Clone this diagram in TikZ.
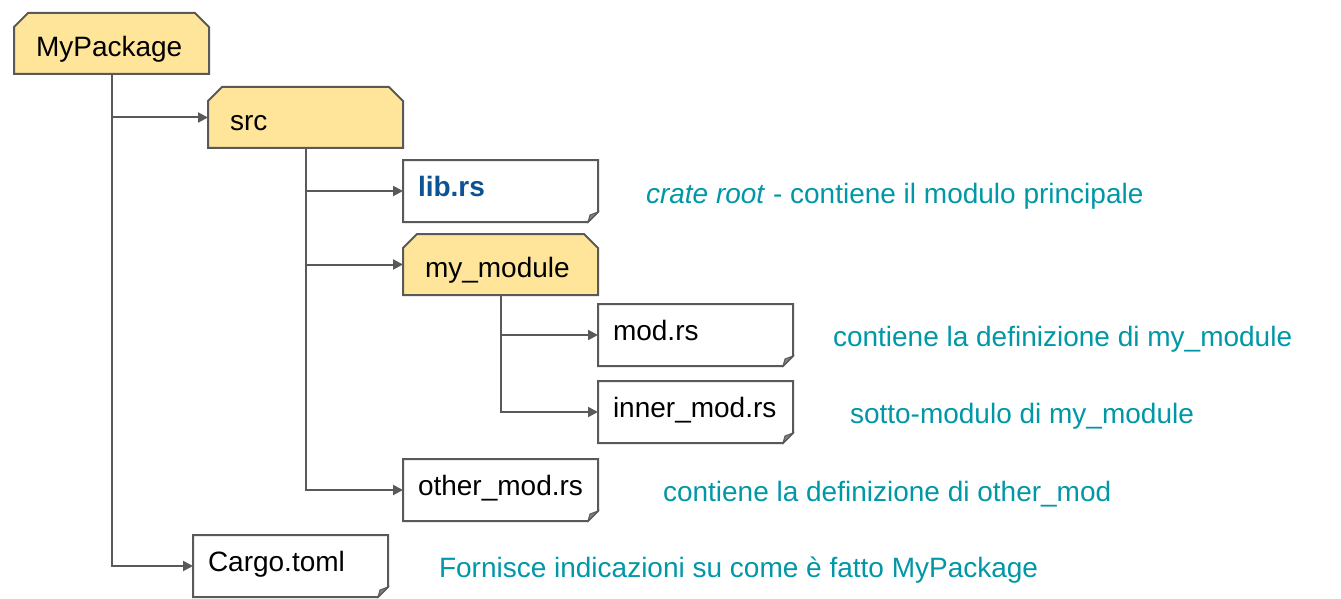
\documentclass[tikz,border=0pt]{standalone}
\usepackage{fontspec}
\setmainfont{Liberation Sans}
\usetikzlibrary{arrows.meta,backgrounds,calc}
\definecolor{linegray}{HTML}{595959}
\definecolor{folderfill}{HTML}{FFE599}
\definecolor{libblue}{HTML}{0B5394}
\definecolor{noteteal}{HTML}{0097A7}
\begin{document}
\begin{tikzpicture}[x=1pt,y=-1pt,
  every node/.style={font=\fontsize{28}{32}\selectfont, outer sep=0pt},
  folder/.style={anchor=north west, minimum width=195pt, minimum height=61pt,
    inner xsep=22pt, text width=151pt, align=left, text height=32pt, text depth=6pt, inner ysep=0pt},
  filebox/.style={anchor=north west, minimum width=195pt, minimum height=62pt,
    inner xsep=15pt, text width=165pt, align=left, text height=20pt, text depth=10pt, inner ysep=0pt},
  note/.style={anchor=base west, text=noteteal, inner sep=0pt},
  shapeline/.style={draw=linegray, line width=2pt, line join=miter},
  conn/.style={draw=linegray, line width=2pt, -{Triangle[length=10pt,width=10pt]}}
]
\useasboundingbox (0,0) rectangle (1341,599);

% nodes
\node[folder] (mp) at (14,13) {MyPackage};
\node[folder] (src) at (208,87) {src};
\node[filebox] (lib) at (403,160) {\textcolor{libblue}{\bfseries lib.rs}};
\node[folder] (mym) at (403,234) {my\_module};
\node[filebox] (mod) at (598,304) {mod.rs};
\node[filebox] (inner) at (598,381) {inner\_mod.rs};
\node[filebox] (other) at (403,459) {other\_mod.rs};
\node[filebox] (cargo) at (193,535) {Cargo.toml};

% shapes on background
\begin{scope}[on background layer]
  \foreach \n in {mp,src,mym}{
    \draw[shapeline, fill=folderfill]
      ($(\n.north west)+(0,14)$) -- ($(\n.north west)+(14,0)$) --
      ($(\n.north east)+(-14,0)$) -- ($(\n.north east)+(0,14)$) --
      (\n.south east) -- (\n.south west) -- cycle;
  }
  \foreach \n in {lib,mod,inner,other,cargo}{
    \draw[shapeline, fill=white]
      (\n.north west) -- (\n.north east) -- ($(\n.south east)+(0,-10)$) --
      ($(\n.south east)+(-10,0)$) -- (\n.south west) -- cycle;
    \draw[draw=linegray, line width=1pt, fill=linegray!75]
      ($(\n.south east)+(0,-10)$) -- ($(\n.south east)+(-10,0)$) --
      ($(\n.south east)+(-8,-7)$) -- cycle;
  }
\end{scope}

% connectors
\draw[conn] (mp.south) |- (src.west);
\draw[conn] (mp.south) |- (cargo.west);
\draw[conn] (src.south) |- (lib.west);
\draw[conn] (src.south) |- (mym.west);
\draw[conn] (src.south) |- (other.west);
\draw[conn] (mym.south) |- (mod.west);
\draw[conn] (mym.south) |- (inner.west);

% annotations
\node[note] (n1) at (646,203) {\textit{crate root} - contiene il modulo principale};
\node[note] (n2) at (833,346) {contiene la definizione di my\_module};
\node[note] (n3) at (850,423) {sotto-modulo di my\_module};
\node[note] (n4) at (663,501) {contiene la definizione di other\_mod};
\node[note] (n5) at (439,577) {Fornisce indicazioni su come è fatto MyPackage};
\end{tikzpicture}
\end{document}
